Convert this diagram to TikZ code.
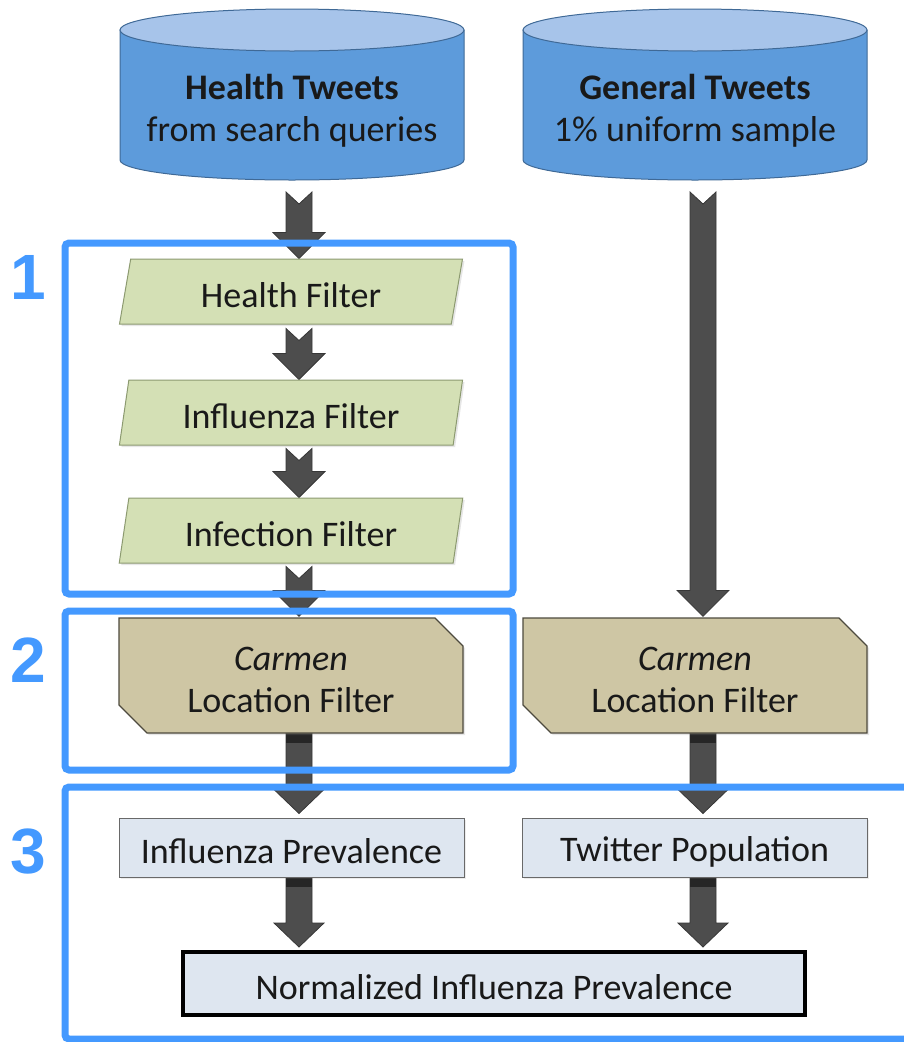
\documentclass[tikz,border=0pt]{standalone}
\usepackage{fontspec}
\setmainfont{Carlito}
\newfontfamily\numfont{Liberation Sans}
\usetikzlibrary{shapes.geometric,shapes.misc,calc,backgrounds,shadows}
\definecolor{cylbody}{RGB}{93,155,219}
\definecolor{cyltop}{RGB}{167,196,234}
\definecolor{cylline}{RGB}{63,105,150}
\definecolor{filtgreen}{RGB}{212,224,181}
\definecolor{filtline}{RGB}{140,154,112}
\definecolor{khaki}{RGB}{206,198,164}
\definecolor{khakiline}{RGB}{77,74,62}
\definecolor{paleblue}{RGB}{222,230,240}
\definecolor{paleline}{RGB}{105,105,105}
\definecolor{arrowc}{RGB}{77,77,77}
\definecolor{arrowline}{RGB}{55,55,55}
\definecolor{frameblue}{RGB}{68,153,255}
\newcommand\low[1]{\raisebox{-4pt}[\height][\depth]{#1}}
\newcommand\flowarrow[2]{%
  \filldraw[arrowbody] ($(#1)+(-13,0)$) -- ($(#1)+(0,12)$) -- ($(#1)+(13,0)$)
    -- ($(#2)+(13,-26)$) -- ($(#2)+(26,-26)$) -- (#2) -- ($(#2)+(-26,-26)$)
    -- ($(#2)+(-13,-26)$) -- cycle;}
\newcommand\flowarrowband[2]{%
  \filldraw[arrowbody] ($(#1)+(-13,-4)$) -- ($(#1)+(13,-4)$)
    -- ($(#2)+(13,-24)$) -- ($(#2)+(25,-24)$) -- (#2) -- ($(#2)+(-25,-24)$)
    -- ($(#2)+(-13,-24)$) -- cycle;
  \fill[black!85] ($(#1)+(-13,0)$) rectangle ($(#1)+(13,9)$);}
\begin{document}
\begin{tikzpicture}[x=1pt,y=-1pt,
  every node/.style={font=\fontsize{36}{42}\selectfont, text=black!90},
  arrowbody/.style={fill=arrowc, draw=arrowline, line width=0.8pt},
  filt/.style={trapezium, trapezium left angle=76, trapezium right angle=104,
    trapezium stretches=true, minimum width=344, minimum height=65,
    fill=filtgreen, draw=filtline, line width=1pt, inner sep=0pt,
    drop shadow={opacity=0.2, shadow xshift=2pt, shadow yshift=-2pt}},
  carm/.style={chamfered rectangle, chamfered rectangle corners={north east,south west},
    chamfered rectangle xsep=14pt, chamfered rectangle ysep=14pt,
    minimum width=344, minimum height=115, fill=khaki, draw=khakiline,
    line width=1.2pt, inner sep=0pt, align=center,
    drop shadow={opacity=0.2, shadow xshift=2pt, shadow yshift=-2pt}},
  pale/.style={rectangle, minimum width=345, minimum height=59, fill=paleblue,
    draw=paleline, line width=1pt, inner sep=0pt,
    drop shadow={opacity=0.15, shadow xshift=2pt, shadow yshift=-2pt}},
  frame/.style={draw=frameblue, line width=7pt, rounded corners=4pt},
  num/.style={font=\numfont\bfseries\fontsize{64}{64}\selectfont, text=frameblue},
  cyl/.style={fill=cylbody, draw=cylline, line width=1pt}]
\useasboundingbox (0,0) rectangle (904,1042);

% cylinders
\filldraw[cyl] (120,30) -- (120,160) arc[start angle=180, end angle=0, x radius=172, y radius=20] -- (464,30) -- cycle;
\filldraw[cyl, fill=cyltop] (292,30) ellipse[x radius=172, y radius=21];
\filldraw[cyl] (523,30) -- (523,160) arc[start angle=180, end angle=0, x radius=172, y radius=20] -- (867,30) -- cycle;
\filldraw[cyl, fill=cyltop] (695,30) ellipse[x radius=172, y radius=21];
\node[align=center] (ht) at (292,111) {\textbf{Health Tweets}\\from search queries};
\node[align=center] (gt) at (695,111) {\textbf{General Tweets}\\1\% uniform sample};
\coordinate (htb) at (299,192);
\coordinate (gtb) at (703,192);
\coordinate (axL) at (299,0);
\coordinate (axR) at (703,0);

% filters
\node[filt] (hf) at (291,291.5) {\low{Health Filter}};
\node[filt] (inf) at (291,412.5) {\low{Influenza Filter}};
\node[filt] (ixf) at (291,530.5) {\low{Infection Filter}};
\node[carm] (cl) at (291,675.5) {\low{\textit{Carmen}}\\\low{Location Filter}};
\node[carm] (cr) at (695,675.5) {\low{\textit{Carmen}}\\\low{Location Filter}};
\node[pale] (ip) at (291.5,847.5) {\low{Influenza Prevalence}};
\node[pale] (tp) at (694.5,847.5) {\low{Twitter Population}};
\node[pale, minimum width=622, minimum height=63, line width=4pt, draw=black] (nip) at (494,983.5) {\low{Normalized Influenza Prevalence}};

% arrows
\begin{scope}[on background layer]
\path (hf.north -| axL) coordinate (hfn);
\path (hf.south -| axL) ++(0,4) coordinate (hfs);
\path (inf.north -| axL) coordinate (infn);
\path (inf.south -| axL) ++(0,3) coordinate (infs);
\path (ixf.north -| axL) coordinate (ixfn);
\path (ixf.south -| axL) ++(0,3) coordinate (ixfs);
\path (cl.north -| axL) ++(0,-1) coordinate (cln);
\path (cl.south -| axL) coordinate (cls);
\path (cr.north -| axR) ++(0,-1) coordinate (crn);
\path (cr.south -| axR) coordinate (crs);
\path (ip.north -| axL) ++(0,-4) coordinate (ipn);
\path (ip.south -| axL) coordinate (ips);
\path (tp.north -| axR) ++(0,-4) coordinate (tpn);
\path (tp.south -| axR) coordinate (tps);
\path (nip.north -| axL) ++(0,-3) coordinate (nipl);
\path (nip.north -| axR) ++(0,-3) coordinate (nipr);
\flowarrow{htb}{hfn}
\flowarrow{hfs}{infn}
\flowarrow{infs}{ixfn}
\flowarrow{ixfs}{cln}
\flowarrow{gtb}{crn}
\flowarrowband{cls}{ipn}
\flowarrowband{crs}{tpn}
\flowarrowband{ips}{nipl}
\flowarrowband{tps}{nipr}
\end{scope}

% frames
\draw[frame] (65,243) rectangle (513,594);
\draw[frame] (65,611) rectangle (513,770);
\draw[frame] (65,787) rectangle (920,1039);
\node[num] (n1) at (28,277) {1};
\node[num] (n2) at (28,660) {2};
\node[num] (n3) at (28,852) {3};
\end{tikzpicture}
\end{document}
